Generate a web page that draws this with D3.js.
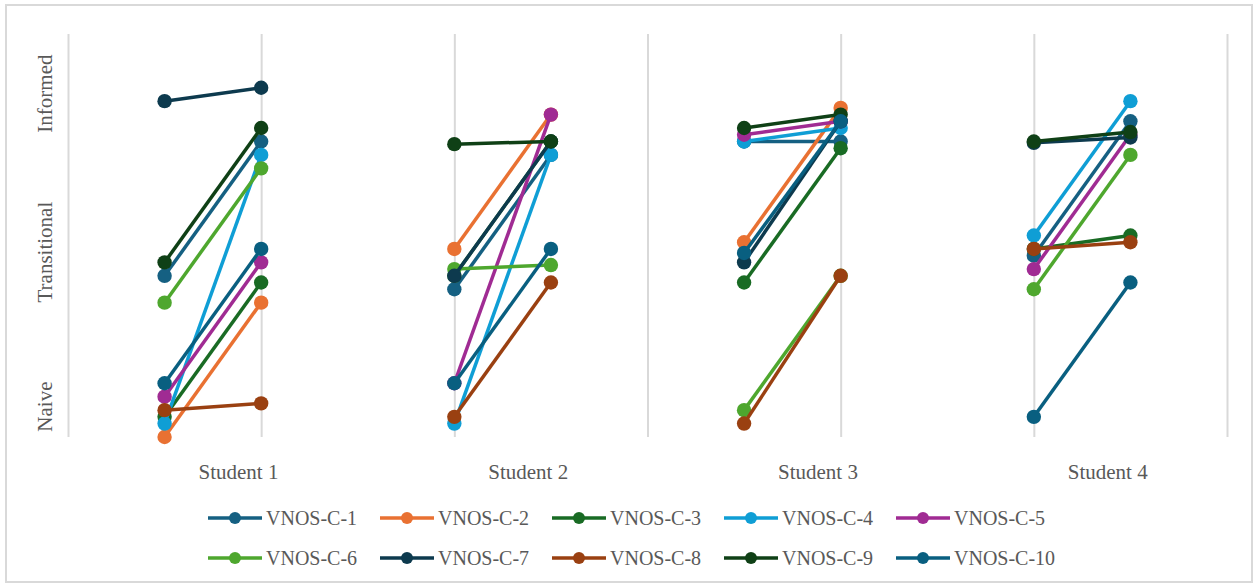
<!DOCTYPE html>
<html>
<head>
<meta charset="utf-8">
<script src="https://cdn.jsdelivr.net/npm/d3@7"></script>
<style>
  html, body { margin: 0; padding: 0; background: #ffffff; }
  svg { display: block; }
  text { font-family: "Liberation Serif", "Times New Roman", serif; fill: #595959; }
</style>
</head>
<body>
<svg id="chart" width="1258" height="587"></svg>
<script>
// Each student is scored before and after instruction on every VNOS-C item.
const students = ["Student 1", "Student 2", "Student 3", "Student 4"];
const phases = ["Pre", "Post"];

// Understanding levels shown along the vertical axis
const levels = ["Naive", "Transitional", "Informed"];
const levelTicks = [2.3, 13.8, 25.6];

// Scores per item: [S1 pre, S1 post, S2 pre, S2 post, S3 pre, S3 post, S4 pre, S4 post]
const vnosC1  = [12, 22, 11, 21, 22, 22, 13.5, 23.5];
const vnosC2  = [0, 10, 14, 24, 14.5, 24.5, null, null];
const vnosC3  = [1.5, 11.5, 12, 22, 11.5, 21.5, 14, 15];
const vnosC4  = [1, 21, 1, 21, 22, 23, 15, 25];
const vnosC5  = [3, 13, 4, 24, 22.5, 23.5, 12.5, 22.5];
const vnosC6  = [10, 20, 12.5, 12.8, 2, 12, 11, 21];
const vnosC7  = [25, 26, 12, 22, 13, 23.5, 21.9, 22.3];
const vnosC8  = [2, 2.5, 1.5, 11.5, 1, 12, 14, 14.5];
const vnosC9  = [13, 23, 21.8, 22, 23, 24, 22, 22.7];
const vnosC10 = [4, 14, 4, 14, 13.7, 23.5, 1.5, 11.5];

const seriesNames = ["VNOS-C-1", "VNOS-C-2", "VNOS-C-3", "VNOS-C-4", "VNOS-C-5",
                     "VNOS-C-6", "VNOS-C-7", "VNOS-C-8", "VNOS-C-9", "VNOS-C-10"];
const seriesValues = [vnosC1, vnosC2, vnosC3, vnosC4, vnosC5,
                      vnosC6, vnosC7, vnosC8, vnosC9, vnosC10];
const seriesColors = ["#156082", "#E97132", "#196B24", "#0F9ED5", "#A02B93",
                      "#4EA72E", "#0D3A4E", "#9A4011", "#0F4016", "#095F80"];

const svg = d3.select("#chart");
const W = 1258, H = 587;

// outer frame
svg.append("rect")
  .attr("x", 6).attr("y", 5)
  .attr("width", W - 12).attr("height", H - 10)
  .attr("fill", "#ffffff")
  .attr("stroke", "#D9D9D9").attr("stroke-width", 2);

const plot = { left: 68, right: 1227, top: 34, bottom: 437 };

// x runs over slots: each student takes a pre and a post slot, with a gap between students
const slotCount = students.length * 3;
const x = d3.scaleLinear().domain([0, slotCount]).range([plot.left, plot.right]);
const y = d3.scaleLinear().domain([0, 30]).range([plot.bottom, plot.top]);
const slotOf = (s, p) => 3 * s + 1 + p;

// vertical gridlines
const gx = svg.append("g")
  .attr("transform", `translate(0,${plot.bottom})`)
  .call(d3.axisBottom(x)
    .tickValues(d3.range(0, slotCount + 1, 2))
    .tickSize(-(plot.bottom - plot.top))
    .tickFormat(""));
gx.select(".domain").remove();
gx.selectAll(".tick line").attr("stroke", "#D9D9D9").attr("stroke-width", 2);

// student labels
const gs = svg.append("g")
  .attr("transform", `translate(0,${plot.bottom})`)
  .call(d3.axisBottom(x)
    .tickValues(students.map((_, s) => slotOf(s, 1) - 0.24))
    .tickFormat((d, i) => students[i])
    .tickSize(0));
gs.select(".domain").remove();
gs.selectAll(".tick text")
  .attr("y", 42).attr("dy", "0")
  .style("font-size", "21px")
  .style("font-family", "'Liberation Serif', 'Times New Roman', serif")
  .attr("fill", "#595959");

// level labels, rotated
const gy = svg.append("g")
  .attr("transform", `translate(${plot.left},0)`)
  .call(d3.axisLeft(y)
    .tickValues(levelTicks)
    .tickFormat((d, i) => levels[i])
    .tickSize(0));
gy.select(".domain").remove();
gy.selectAll(".tick text")
  .attr("x", 0).attr("dy", "0")
  .attr("text-anchor", "middle")
  .attr("transform", "translate(-16,0) rotate(-90)")
  .style("font-size", "21px")
  .style("font-family", "'Liberation Serif', 'Times New Roman', serif")
  .attr("fill", "#595959");

// series: a segment and two markers per student
const line = d3.line()
  .defined(d => d.v != null)
  .x(d => x(d.slot))
  .y(d => y(d.v));

seriesValues.forEach((vals, i) => {
  const g = svg.append("g").attr("class", "series");
  const color = seriesColors[i];
  students.forEach((_, s) => {
    const pts = phases.map((_, p) => ({ slot: slotOf(s, p), v: vals[2 * s + p] }));
    g.append("path")
      .attr("d", line(pts))
      .attr("fill", "none")
      .attr("stroke", color)
      .attr("stroke-width", 3.5)
      .attr("stroke-linejoin", "round");
    g.selectAll(null)
      .data(pts.filter(d => d.v != null))
      .join("circle")
      .attr("cx", d => x(d.slot))
      .attr("cy", d => y(d.v))
      .attr("r", 7.2)
      .attr("fill", color);
  });
});

// legend, two rows of five
const legend = svg.append("g");
const perRow = 5, itemW = 172, startX = 208, rowY = [518, 558];
seriesNames.forEach((name, i) => {
  const col = i % perRow, row = Math.floor(i / perRow);
  const gx0 = startX + col * itemW, gy0 = rowY[row];
  const it = legend.append("g").attr("transform", `translate(${gx0},${gy0})`);
  it.append("line")
    .attr("x1", 0).attr("x2", 54).attr("y1", 0).attr("y2", 0)
    .attr("stroke", seriesColors[i]).attr("stroke-width", 3.5);
  it.append("circle").attr("cx", 27).attr("cy", 0).attr("r", 6).attr("fill", seriesColors[i]);
  it.append("text")
    .attr("x", 58).attr("y", 7)
    .style("font-size", "20px")
    .text(name);
});
</script>
</body>
</html>
